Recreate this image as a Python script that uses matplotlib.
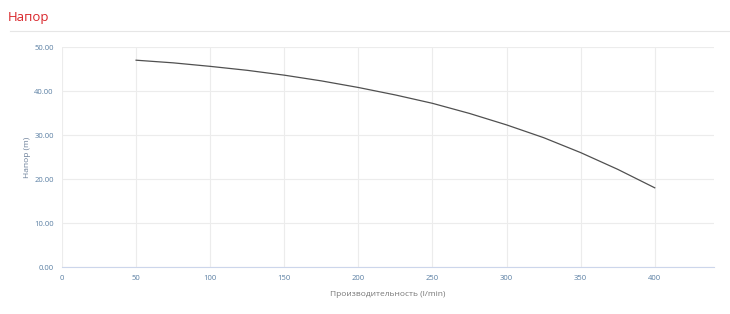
import matplotlib
matplotlib.use("Agg")
import matplotlib.pyplot as plt

flow = [50, 75, 100, 125, 150, 175, 200, 225, 250, 275, 300, 325, 350, 375, 400]
head = [47.0, 46.4, 45.6, 44.7, 43.6, 42.3, 40.8, 39.1, 37.2, 34.9, 32.3, 29.4, 26.0, 22.2, 18.0]
xticks = [0, 50, 100, 150, 200, 250, 300, 350, 400]
yticks = [0, 10, 20, 30, 40, 50]

plt.rcParams["font.family"] = ["Open Sans", "DejaVu Sans"]

fig = plt.figure(figsize=(7.3, 3.14), dpi=100)
ax = fig.add_axes([62/730, 47/314, 652/730, 220/314])

ax.plot(flow, head, color="#505050", lw=0.9)
ax.set_xlim(0, 440)
ax.set_ylim(0, 50)
ax.set_xticks(xticks)
ax.set_yticks(yticks)
ax.set_yticklabels([f"{v:.2f}" for v in yticks])
ax.grid(True, color="#ececec", lw=0.8)
ax.set_axisbelow(True)
for s in ["top", "right", "left"]:
    ax.spines[s].set_visible(False)
ax.spines["bottom"].set_color("#ccd6eb")
ax.spines["bottom"].set_linewidth(0.8)
ax.tick_params(axis="both", length=0, labelsize=5.5, pad=6)
ax.tick_params(axis="y", labelcolor="#5a7fa3")
ax.tick_params(axis="x", labelcolor="#5a7fa3")
ax.set_xlabel("Производительность (l/min)", fontsize=6, color="#777777", labelpad=6)
ax.set_ylabel("Напор (m)", fontsize=6, color="#6b7f99", labelpad=2)

fig.text(8/730, 1 - 18/314, "Напор", color="#d9262b", fontsize=9.5, va="center", ha="left")
fig.add_artist(plt.Line2D([10/730, 1], [1 - 31/314, 1 - 31/314], color="#e6e6e6", lw=0.8))

fig.savefig("out.png", dpi=100)
